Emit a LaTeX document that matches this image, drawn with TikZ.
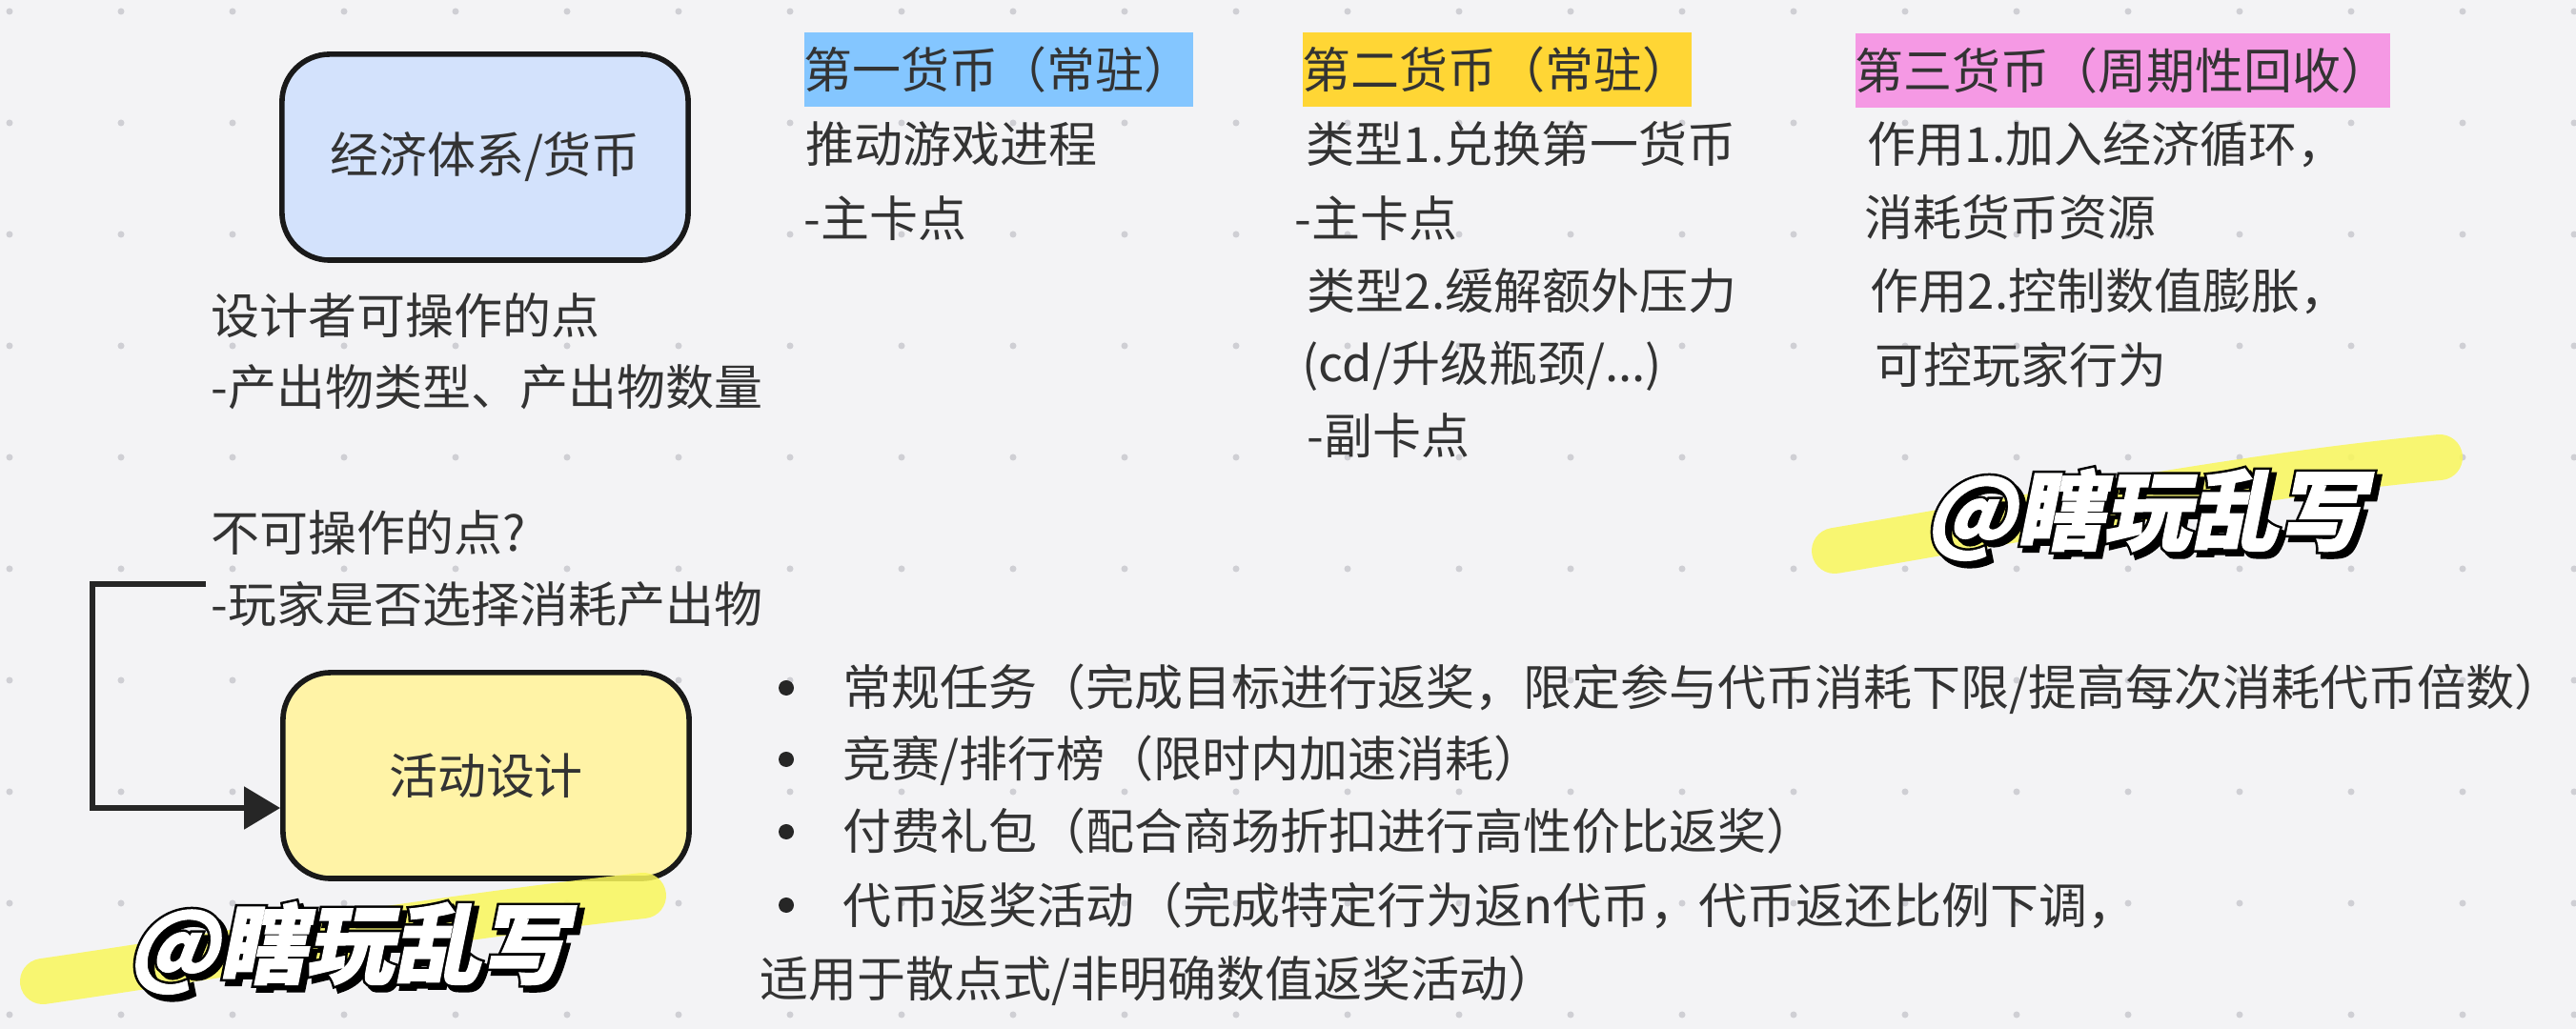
\documentclass[tikz,border=0pt]{standalone}
\usepackage[svgnames]{xcolor}
\usepackage{fontspec}
\usepackage{tikz}
\usetikzlibrary{arrows.meta}
\newfontfamily\cjk{Noto Sans CJK SC}
\newfontfamily\markfont[FakeSlant=0.2,FakeBold=1.5]{Noto Sans CJK SC}
\newfontfamily\markbord[FakeSlant=0.2,FakeBold=7]{Noto Sans CJK SC}
\definecolor{fondgris}{HTML}{F3F3F5}
\definecolor{pointgris}{HTML}{CFCFD4}
\definecolor{bleuboite}{HTML}{D3E2FC}
\definecolor{jauneboite}{HTML}{FFF3A6}
\definecolor{bleumarque}{HTML}{84C6FF}
\definecolor{jaunemarque}{HTML}{FFD635}
\definecolor{rosemarque}{HTML}{F599E4}
\definecolor{surligne}{HTML}{F9F75A}
\definecolor{encre}{HTML}{333333}
\tikzset{
	boite/.style={draw=black!90,line width=1.6pt,rounded corners=0.5cm,minimum width=4.26cm,minimum height=2.16cm,font=\cjk\fontsize{14.5}{17}\selectfont,text=encre},
	ligne/.style={anchor=base west,inner sep=0pt,font=\cjk\fontsize{14.5}{17}\selectfont,text=encre},
	titre/.style={anchor=west,inner sep=0pt,minimum height=0.78cm,font=\cjk\fontsize{14.5}{17}\selectfont,text=encre},
	puce/.style={circle,fill=black!85,inner sep=0pt,minimum size=0.16cm},
	fleche/.style={draw=black!85,line width=1.5pt,-{Triangle[length=0.38cm,width=0.44cm]}},
	pinceau/.style={draw=surligne,line width=0.48cm,line cap=round,opacity=0.85},
	filigrane/.style={font=\markfont\bfseries\fontsize{26}{30}\selectfont,inner sep=0pt,text=white},
	contour/.style={font=\markbord\bfseries\fontsize{26}{30}\selectfont,inner sep=0pt,text=black}
}
\begin{document}
\begin{tikzpicture}[x=0.01cm,y=-0.01cm]
	%
	% Limites du dessin (en pixels)
	\def\largeur{2703}
	\def\hauteur{1080}
	\fill[fondgris] (0,0) rectangle (\largeur,\hauteur);
	\useasboundingbox (0,0) rectangle (\largeur,\hauteur);
	%
	% Grille de points
	\foreach \gx in {0,...,23}
		\foreach \gy in {0,...,9}
			\fill[pointgris] (10+117*\gx,12+117*\gy) circle (0.035cm);
	%
	% Boites
	\node[boite,fill=bleuboite] (eco) at (509,165) {经济体系/货币};
	\node[boite,fill=jauneboite] (activite) at (510,814) {活动设计};
	%
	% Points operables
	\node[ligne] (oper) at (221,351) {设计者可操作的点};
	\node[ligne] (produit) at (221,426) {-产出物类型、产出物数量};
	\node[ligne] (nonoper) at (221,579) {不可操作的点?};
	\node[ligne] (joueur) at (221,654) {-玩家是否选择消耗产出物};
	%
	% Boucle
	\coordinate (depart) at (216,613);
	\draw[fleche] (depart) -- (97,613) |- ([yshift=-0.34cm]activite.west);
	%
	% Monnaies
	\node[titre,fill=bleumarque] (mon1) at (843,73) {第一货币（常驻）};
	\node[titre,fill=jaunemarque] (mon2) at (1366,73) {第二货币（常驻）};
	\node[titre,fill=rosemarque] (mon3) at (1946,74) {第三货币（周期性回收）};
	\node[ligne] (mon1a) at (845,171) {推动游戏进程};
	\node[ligne] (mon1b) at (843,249) {-主卡点};
	\node[ligne] (mon2a) at (1370,171) {类型1.兑换第一货币};
	\node[ligne] (mon2b) at (1358,249) {-主卡点};
	\node[ligne] (mon2c) at (1371,325) {类型2.缓解额外压力};
	\node[ligne] (mon2d) at (1366,401) {(cd/升级瓶颈/...)};
	\node[ligne] (mon2e) at (1371,477) {-副卡点};
	\node[ligne] (mon3a) at (1959,171) {作用1.加入经济循环，};
	\node[ligne] (mon3b) at (1956,248) {消耗货币资源};
	\node[ligne] (mon3c) at (1962,325) {作用2.控制数值膨胀，};
	\node[ligne] (mon3d) at (1967,403) {可控玩家行为};
	%
	% Liste des activites
	\node[puce] (puce1) at (825,722) {};
	\node[puce] (puce2) at (825,797) {};
	\node[puce] (puce3) at (825,873) {};
	\node[puce] (puce4) at (825,950) {};
	\node[ligne] (act1) at (884,741) {常规任务（完成目标进行返奖，限定参与代币消耗下限/提高每次消耗代币倍数）};
	\node[ligne] (act2) at (884,816) {竞赛/排行榜（限时内加速消耗）};
	\node[ligne] (act3) at (884,892) {付费礼包（配合商场折扣进行高性价比返奖）};
	\node[ligne] (act4) at (884,969) {代币返奖活动（完成特定行为返n代币，代币返还比例下调，};
	\node[ligne] (act5) at (797,1047) {适用于散点式/非明确数值返奖活动）};
	%
	% Filigranes
	\draw[pinceau] (1925,578) .. controls (2150,540) and (2350,500) .. (2560,480);
	\draw[pinceau] (45,1030) .. controls (250,1000) and (450,965) .. (675,940);
	\node[contour] (ombreA) at (2256,545) {@瞎玩乱写};
	\node[contour] (ombreB) at (370,1000) {@瞎玩乱写};
	\node[contour] (bordA) at (2251,540) {@瞎玩乱写};
	\node[contour] (bordB) at (365,995) {@瞎玩乱写};
	\node[filigrane] (filA) at (2251,540) {@瞎玩乱写};
	\node[filigrane] (filB) at (365,995) {@瞎玩乱写};
\end{tikzpicture}
\end{document}
